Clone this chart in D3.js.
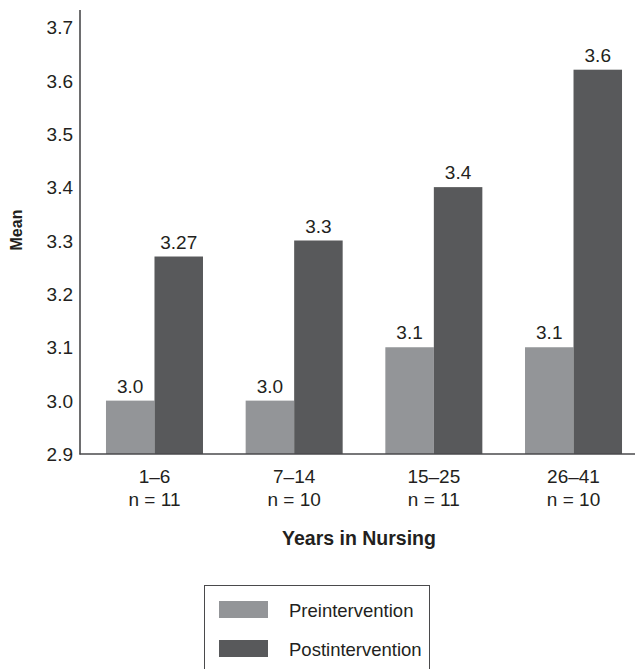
<!DOCTYPE html>
<html>
<head>
<meta charset="utf-8">
<script src="https://cdn.jsdelivr.net/npm/d3@7"></script>
<style>
  html, body { margin: 0; padding: 0; background: #fff; }
  svg { display: block; }
  text { font-family: "Liberation Sans", Arial, sans-serif; fill: #231f20; }
</style>
</head>
<body>
<svg id="chart" width="635" height="669"></svg>
<script>
const categories = ["1\u20136", "7\u201314", "15\u201325", "26\u201341"];
const sampleSizes = ["n = 11", "n = 10", "n = 11", "n = 10"];
const seriesNames = ["Preintervention", "Postintervention"];
const preValues = [3.0, 3.0, 3.1, 3.1];
const postValues = [3.27, 3.3, 3.4, 3.62];
const preLabels = ["3.0", "3.0", "3.1", "3.1"];
const postLabels = ["3.27", "3.3", "3.4", "3.6"];
const yTicks = [2.9, 3.0, 3.1, 3.2, 3.3, 3.4, 3.5, 3.6, 3.7];
const colors = ["#939598", "#58595b"];

const svg = d3.select("#chart");
const axisColor = "#4a4a4c";
const fs = 19;

const y = d3.scaleLinear().domain([2.9, 3.7]).range([454, 27]);
const x0 = d3.scaleBand().domain(categories).range([80, 648]).paddingInner(0.3055).paddingOuter(0.186);
const x1 = d3.scaleBand().domain(seriesNames).range([0, x0.bandwidth()]);

const rows = categories.map((c, i) => ({
  cat: c,
  vals: [
    {s: seriesNames[0], v: preValues[i], lab: preLabels[i]},
    {s: seriesNames[1], v: postValues[i], lab: postLabels[i]}
  ]
}));

// y axis ticks
const yAxis = d3.axisLeft(y).tickValues(yTicks).tickFormat(d3.format(".1f")).tickSize(0).tickPadding(7);
const gy = svg.append("g").attr("transform", "translate(80,0)").call(yAxis);
gy.select(".domain").remove();
gy.attr("font-family", null).attr("font-size", null);
gy.selectAll("text").attr("font-size", fs).attr("fill", "#231f20").attr("dy", "0.35em");

// bars
const groups = svg.append("g").selectAll("g").data(rows).join("g")
  .attr("transform", d => `translate(${x0(d.cat)},0)`);
groups.selectAll("rect").data(d => d.vals).join("rect")
  .attr("x", d => x1(d.s))
  .attr("width", x1.bandwidth())
  .attr("y", d => y(d.v))
  .attr("height", d => y(2.9) - y(d.v))
  .attr("fill", (d, i) => colors[i]);
groups.selectAll("text.val").data(d => d.vals).join("text")
  .attr("class", "val")
  .attr("x", d => x1(d.s) + x1.bandwidth() / 2)
  .attr("y", d => y(d.v) - 8)
  .attr("text-anchor", "middle")
  .attr("font-size", fs)
  .text(d => d.lab);

// axis lines
svg.append("line").attr("x1", 80).attr("x2", 80).attr("y1", 10).attr("y2", 454.5)
  .attr("stroke", axisColor).attr("stroke-width", 1.6);
svg.append("line").attr("x1", 79.5).attr("x2", 635).attr("y1", 454).attr("y2", 454)
  .attr("stroke", axisColor).attr("stroke-width", 1.6);

// x category labels
const xl = svg.append("g").selectAll("g").data(categories).join("g")
  .attr("transform", d => `translate(${x0(d) + x0.bandwidth() / 2},0)`);
xl.append("text").attr("y", 483).attr("text-anchor", "middle").attr("font-size", fs).text(d => d);
xl.append("text").attr("y", 506).attr("text-anchor", "middle").attr("font-size", fs)
  .text((d, i) => sampleSizes[i]);

// axis titles
svg.append("text").attr("x", 359).attr("y", 545).attr("text-anchor", "middle")
  .attr("font-size", 19.5).attr("font-weight", "bold").text("Years in Nursing");
svg.append("text").attr("transform", "translate(22,230) rotate(-90)").attr("text-anchor", "middle")
  .attr("font-size", 16).attr("font-weight", "bold").text("Mean");

// legend
const lg = svg.append("g");
lg.append("rect").attr("x", 204.5).attr("y", 585.5).attr("width", 225).attr("height", 100)
  .attr("fill", "none").attr("stroke", axisColor).attr("stroke-width", 1);
const items = lg.selectAll("g").data(seriesNames).join("g")
  .attr("transform", (d, i) => `translate(0,${601 + i * 39})`);
items.append("rect").attr("x", 219).attr("y", 0).attr("width", 49).attr("height", 17)
  .attr("fill", (d, i) => colors[i]);
items.append("text").attr("x", 289).attr("y", 15.5).attr("font-size", 18.5).text(d => d);
</script>
</body>
</html>
